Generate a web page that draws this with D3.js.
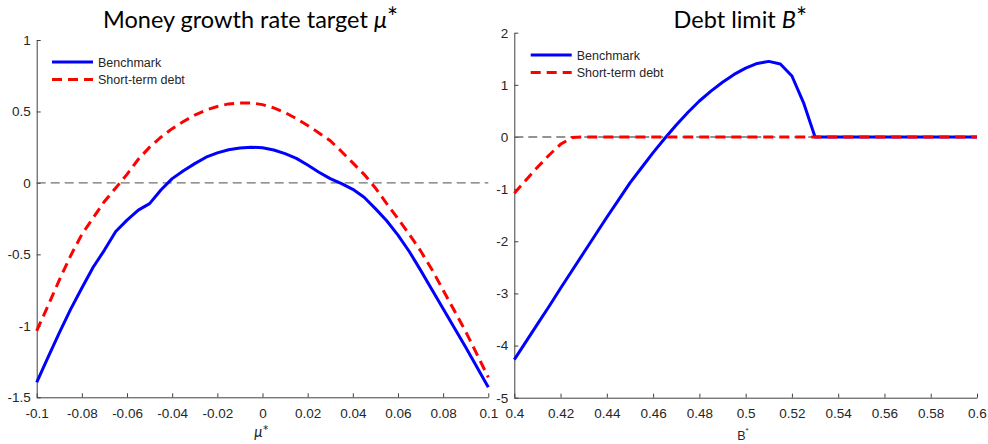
<!DOCTYPE html>
<html>
<head>
<meta charset="utf-8">
<script src="https://cdn.jsdelivr.net/npm/d3@7/dist/d3.min.js"></script>
<style>
  body { margin: 0; background: #fff; }
  svg { display: block; }
  .tick text { font-family: "Liberation Sans", Arial, sans-serif; font-size: 13.5px; fill: #262626; }
  .domain, .tick line { stroke: #404040; stroke-width: 1; }
</style>
</head>
<body>
<svg width="988" height="444"></svg>
<script>
// series names for the legends
const seriesNames = ['Benchmark', 'Short-term debt'];

// left panel: money growth rate target grid
const muGrid = [-0.1, -0.095, -0.09, -0.085, -0.08, -0.075, -0.07, -0.065, -0.06, -0.055,
  -0.05, -0.045, -0.04, -0.035, -0.03, -0.025, -0.02, -0.015, -0.01, -0.005,
  0, 0.005, 0.01, 0.015, 0.02, 0.025, 0.03, 0.035, 0.04, 0.045,
  0.05, 0.055, 0.06, 0.065, 0.07, 0.075, 0.08, 0.085, 0.09, 0.095, 0.1];
const benchmarkMu = [-1.395, -1.22, -1.05, -0.885, -0.735, -0.59, -0.47, -0.34, -0.26, -0.19,
  -0.145, -0.05, 0.03, 0.085, 0.135, 0.18, 0.21, 0.232, 0.245, 0.25,
  0.246, 0.23, 0.205, 0.172, 0.125, 0.075, 0.03, -0.005, -0.045, -0.1,
  -0.18, -0.265, -0.365, -0.48, -0.61, -0.745, -0.88, -1.015, -1.15, -1.29, -1.43];
const shortTermMu = [-1.035, -0.86, -0.68, -0.51, -0.36, -0.245, -0.13, -0.035, 0.06, 0.165,
  0.25, 0.32, 0.38, 0.43, 0.475, 0.51, 0.535, 0.553, 0.56, 0.56,
  0.548, 0.525, 0.492, 0.45, 0.402, 0.35, 0.295, 0.22, 0.14, 0.06,
  -0.035, -0.145, -0.25, -0.36, -0.475, -0.605, -0.75, -0.895, -1.04, -1.2, -1.36];
const muXTicks = [-0.1, -0.08, -0.06, -0.04, -0.02, 0, 0.02, 0.04, 0.06, 0.08, 0.1];
const muXTickLabels = ['-0.1', '-0.08', '-0.06', '-0.04', '-0.02', '0', '0.02', '0.04', '0.06', '0.08', '0.1'];
const muYTicks = [-1.5, -1, -0.5, 0, 0.5, 1];
const muYTickLabels = ['-1.5', '-1', '-0.5', '0', '0.5', '1'];

// right panel: debt limit grid
const debtGrid = [0.4, 0.405, 0.41, 0.415, 0.42, 0.425, 0.43, 0.435, 0.44, 0.445,
  0.45, 0.455, 0.46, 0.465, 0.47, 0.475, 0.48, 0.485, 0.49, 0.495,
  0.5, 0.505, 0.51, 0.515, 0.52, 0.525, 0.53, 0.535, 0.54, 0.545,
  0.55, 0.555, 0.56, 0.565, 0.57, 0.575, 0.58, 0.585, 0.59, 0.595, 0.6];
const benchmarkDebt = [-4.27, -3.93, -3.59, -3.25, -2.9, -2.56, -2.22, -1.88, -1.54, -1.21,
  -0.88, -0.59, -0.3, -0.03, 0.23, 0.47, 0.69, 0.88, 1.05, 1.2,
  1.32, 1.41, 1.45, 1.4, 1.17, 0.66, 0, 0, 0, 0,
  0, 0, 0, 0, 0, 0, 0, 0, 0, 0, 0];
const shortTermDebt = [-1.08, -0.83, -0.58, -0.35, -0.14, -0.01, 0, 0, 0, 0,
  0, 0, 0, 0, 0, 0, 0, 0, 0, 0,
  0, 0, 0, 0, 0, 0, 0, 0, 0, 0,
  0, 0, 0, 0, 0, 0, 0, 0, 0, 0, 0];
const debtXTicks = [0.4, 0.42, 0.44, 0.46, 0.48, 0.5, 0.52, 0.54, 0.56, 0.58, 0.6];
const debtXTickLabels = ['0.4', '0.42', '0.44', '0.46', '0.48', '0.5', '0.52', '0.54', '0.56', '0.58', '0.6'];
const debtYTicks = [-5, -4, -3, -2, -1, 0, 1, 2];
const debtYTickLabels = ['-5', '-4', '-3', '-2', '-1', '0', '1', '2'];

const svg = d3.select('svg');

// draws one subplot
function panel(cfg) {
  const x = d3.scaleLinear().domain(cfg.xDomain).range([cfg.left, cfg.right]);
  const y = d3.scaleLinear().domain(cfg.yDomain).range([cfg.bottom, cfg.top]);
  const g = svg.append('g');

  //axes, ticks pointing inwards
  g.append('g')
    .attr('transform', `translate(0,${cfg.bottom})`)
    .call(d3.axisBottom(x).tickValues(cfg.xTicks)
      .tickFormat((d, i) => cfg.xTickLabels[i])
      .tickSizeInner(-4).tickSizeOuter(0).tickPadding(11));
  g.append('g')
    .attr('transform', `translate(${cfg.left},0)`)
    .call(d3.axisLeft(y).tickValues(cfg.yTicks)
      .tickFormat((d, i) => cfg.yTickLabels[i])
      .tickSizeInner(-4).tickSizeOuter(0).tickPadding(6));

  // dashed zero reference line
  g.append('line')
    .attr('x1', x(cfg.xDomain[0])).attr('x2', x(cfg.xDomain[1]))
    .attr('y1', y(0)).attr('y2', y(0))
    .attr('stroke', '#707070').attr('stroke-width', 1.4)
    .attr('stroke-dasharray', '9,5');

  const line = d3.line().x((d, i) => x(cfg.xs[i])).y(d => y(d));
  g.append('path').datum(cfg.bench)
    .attr('d', line).attr('fill', 'none')
    .attr('stroke', '#0000ff').attr('stroke-width', 3)
    .attr('stroke-linejoin', 'round');
  g.append('path').datum(cfg.short)
    .attr('d', line).attr('fill', 'none')
    .attr('stroke', '#ff0000').attr('stroke-width', 3)
    .attr('stroke-dasharray', '10,6');

  // legend, no box
  const leg = g.append('g').attr('transform', `translate(${cfg.legX},${cfg.legY})`);
  seriesNames.forEach((name, i) => {
    leg.append('line')
      .attr('x1', 0).attr('x2', 41).attr('y1', i * 17.5).attr('y2', i * 17.5)
      .attr('stroke', i == 0 ? '#0000ff' : '#ff0000').attr('stroke-width', 3)
      .attr('stroke-dasharray', i == 0 ? null : '10,6');
    leg.append('text')
      .attr('x', 46).attr('y', i * 17.5 + 4.5)
      .style('font-family', '"Liberation Sans", Arial, sans-serif')
      .style('font-size', '12.5px').style('fill', '#262626')
      .text(name);
  });
  return g;
}

panel({
  xDomain: [-0.1, 0.1], yDomain: [-1.5, 1],
  left: 36.7, right: 488.3, top: 40, bottom: 397.3,
  xs: muGrid, bench: benchmarkMu, short: shortTermMu,
  xTicks: muXTicks, xTickLabels: muXTickLabels,
  yTicks: muYTicks, yTickLabels: muYTickLabels,
  legX: 52, legY: 62
});
panel({
  xDomain: [0.4, 0.6], yDomain: [-5, 2],
  left: 514.3, right: 977, top: 32.7, bottom: 397.7,
  xs: debtGrid, bench: benchmarkDebt, short: shortTermDebt,
  xTicks: debtXTicks, xTickLabels: debtXTickLabels,
  yTicks: debtYTicks, yTickLabels: debtYTickLabels,
  legX: 530.7, legY: 55
});

// titles
const titleFont = 'Lato, "Open Sans", sans-serif';
const t1 = svg.append('text').attr('x', 250.5).attr('y', 28)
  .attr('text-anchor', 'middle')
  .style('font-family', titleFont).style('font-size', '23.5px').style('fill', '#000');
t1.append('tspan').text('Money growth rate target ');
t1.append('tspan').style('font-style', 'italic').text('μ');
t1.append('tspan').attr('dy', -1).style('font-size', '26px').text('*');

const t2 = svg.append('text').attr('x', 740.3).attr('y', 27.5)
  .attr('text-anchor', 'middle')
  .style('font-family', titleFont).style('font-size', '23.5px').style('fill', '#000');
t2.append('tspan').text('Debt limit ');
t2.append('tspan').style('font-style', 'italic').text('B');
t2.append('tspan').attr('dy', -1).style('font-size', '26px').text('*');

// x axis labels
const xl1 = svg.append('text').attr('x', 261.5).attr('y', 437)
  .attr('text-anchor', 'middle')
  .style('font-family', titleFont).style('font-size', '15px').style('fill', '#262626');
xl1.append('tspan').style('font-style', 'italic').text('μ');
xl1.append('tspan').attr('dy', -1).text('*');

const xl2 = svg.append('text').attr('x', 743).attr('y', 440)
  .attr('text-anchor', 'middle')
  .style('font-family', '"Liberation Sans", Arial, sans-serif').style('font-size', '12.5px').style('fill', '#262626');
xl2.append('tspan').text('B');
xl2.append('tspan').attr('dy', -7).style('font-size', '8px').text('*');
</script>
</body>
</html>
